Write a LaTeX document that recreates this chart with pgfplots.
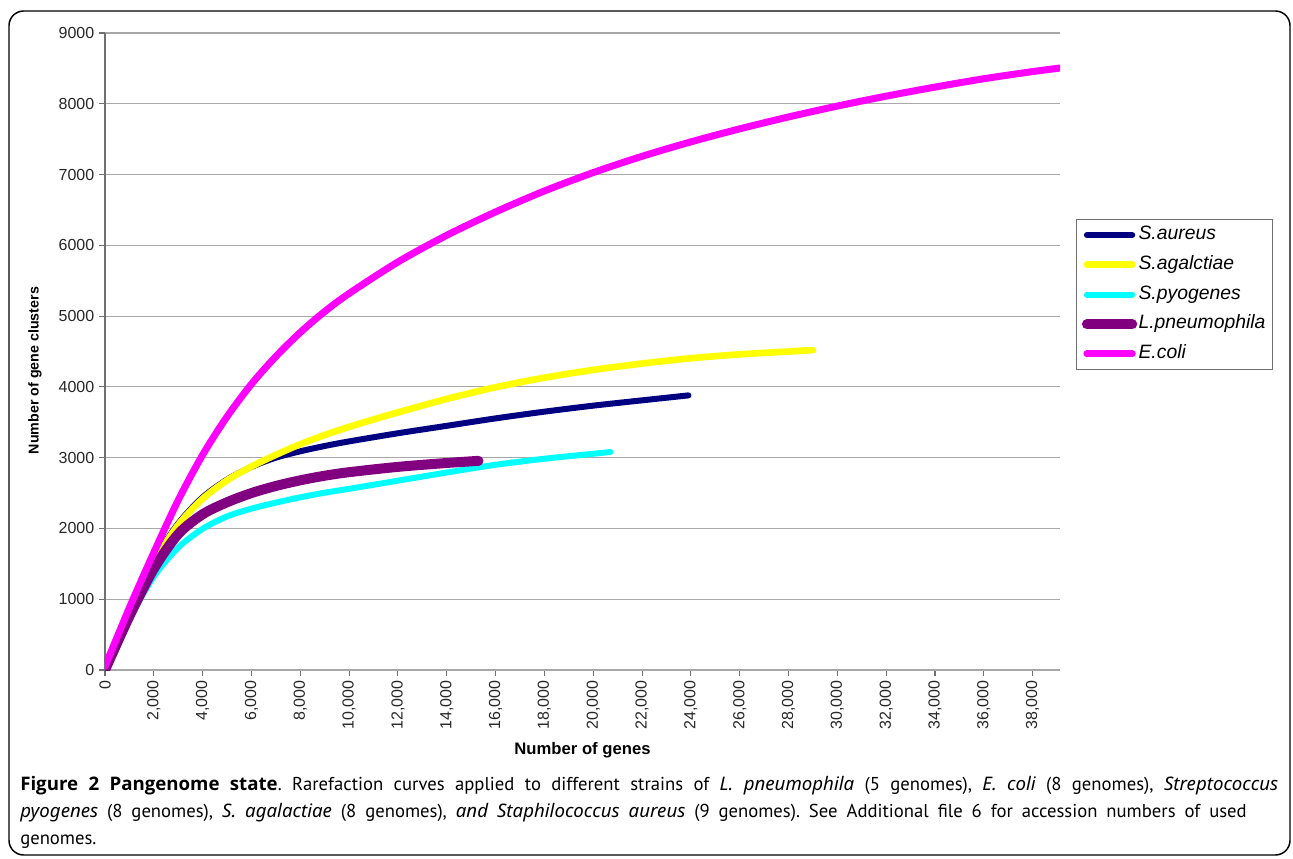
\documentclass[border=0pt]{standalone}
\usepackage{pgfplots}
\pgfplotsset{compat=1.18}
\usepackage{fontspec}
\setmainfont{Liberation Sans}
\newfontfamily\capfont{PT Sans}
\newfontfamily\notofont{Noto Sans}
\newfontfamily\osfont{Open Sans}
\newcommand{\ci}[1]{{\notofont\itshape #1}}
\definecolor{gridgray}{HTML}{A8A8A8}
\definecolor{axgray}{HTML}{707070}
\definecolor{caureus}{HTML}{000080}
\definecolor{cagal}{HTML}{FFFF00}
\definecolor{cpyo}{HTML}{00FFFF}
\definecolor{clpn}{HTML}{800080}
\definecolor{ecoli}{HTML}{FF00FF}
\begin{document}
\begin{tikzpicture}
\useasboundingbox (0pt,0pt) rectangle (969.75pt,-644.25pt);
\draw[line width=1.1pt, rounded corners=11pt] (6.75pt,-8.25pt) rectangle (967.5pt,-641.25pt);
\begin{axis}[
  at={(78.75pt,-502.5pt)}, anchor=south west,
  scale only axis, width=716.25pt, height=477.75pt,
  xmin=0, xmax=39120, ymin=0, ymax=9000,
  axis x line*=bottom, axis y line*=left,
  x axis line style={draw=gridgray, line width=0.9pt},
  y axis line style={draw=axgray, line width=0.9pt},
  xtick={0,2000,...,38000}, ytick={0,1000,...,9000},
  tick align=outside, major tick length=4.5pt,
  x tick style={draw=axgray, line width=0.8pt},
  y tick style={draw=axgray, line width=0.8pt},
  ymajorgrids, grid style={draw=gridgray, line width=0.9pt},
  scaled ticks=false,
  /pgf/number format/assume math mode=true,
  x tick label style={rotate=90, anchor=east, /pgf/number format/1000 sep={,}},
  y tick label style={/pgf/number format/1000 sep={}},
  ticklabel style={font=\fontsize{12}{14}\selectfont, text=black!85},
  xlabel={Number of genes}, ylabel={Number of gene clusters},
  xlabel style={font=\bfseries\fontsize{12.5}{14}\selectfont, at={(axis description cs:0.5,-0.1256)}, anchor=center},
  ylabel style={font=\bfseries\fontsize{10.7}{12}\selectfont, at={(axis description cs:-0.0733,0.47)}, anchor=center},
  legend style={at={(1.0168,0.5895)}, anchor=west, draw=axgray, line width=0.8pt,
    font=\itshape\fontsize{14.5}{16}\selectfont,
    nodes={text height=10pt, text depth=3pt, inner ysep=0pt, inner xsep=1pt},
    row sep=9.3pt, inner xsep=4pt, inner ysep=5pt},
  legend cell align=left,
  legend image code/.code={\draw[#1, line cap=round] (0pt,0pt) -- (34pt,0pt);},
  every axis plot/.append style={smooth, line cap=round, line join=round},
]
\addplot[caureus, line width=4.5pt] coordinates {
(0,0) (1000,790) (2000,1540) (3000,2070) (4000,2440) (5000,2690) (6000,2870)
(7000,3000) (8000,3090) (9000,3165) (10000,3230) (12000,3345) (14000,3450)
(16000,3555) (18000,3650) (20000,3735) (22000,3810) (23900,3880)};
\addlegendentry{S.aureus}
\addplot[cagal, line width=5pt] coordinates {
(0,0) (1000,780) (2000,1520) (3000,2050) (4000,2420) (5000,2680) (6000,2875)
(7000,3040) (8000,3190) (9000,3320) (10000,3435) (11000,3540) (12000,3640)
(14000,3830) (16000,3995) (18000,4130) (20000,4240) (22000,4330) (24000,4405)
(26000,4460) (28000,4500) (29000,4520)};
\addlegendentry{S.agalctiae}
\addplot[cpyo, line width=4.5pt] coordinates {
(0,0) (1000,720) (2000,1320) (3000,1730) (4000,1995) (5000,2170) (6000,2280)
(7000,2365) (8000,2440) (9000,2505) (10000,2560) (12000,2675) (14000,2790)
(16000,2900) (18000,2985) (20000,3055) (20700,3080)};
\addlegendentry{S.pyogenes}
\addplot[clpn, line width=7.5pt] coordinates {
(0,0) (1000,760) (2000,1430) (3000,1920) (4000,2200) (5000,2370) (6000,2500)
(7000,2600) (8000,2680) (9000,2745) (10000,2795) (12000,2870) (14000,2925) (15300,2955)};
\addlegendentry{L.pneumophila}
\addplot[ecoli, line width=5.25pt] coordinates {
(0,50) (1000,880) (2000,1660) (3000,2400) (4000,3040) (5000,3580) (6000,4040)
(7000,4430) (8000,4770) (9000,5065) (10000,5320) (12000,5765) (14000,6142)
(16000,6472) (18000,6768) (20000,7028) (22000,7258) (24000,7462) (26000,7646)
(28000,7814) (30000,7968) (32000,8108) (34000,8236) (36000,8354) (38000,8455)
(39120,8505)};
\addlegendentry{E.coli}
\end{axis}
\node[anchor=north west, text width=943.5pt, align=justify, inner sep=0pt,
  font=\capfont\fontsize{14}{20.3}\selectfont] at (15pt,-582pt) {\frenchspacing\spaceskip=6.7pt plus 3pt minus 1pt
{\osfont\bfseries Figure 2 Pangenome state}. Rarefaction curves applied to different strains of \ci{L. pneumophila} (5 genomes), \ci{E. coli} (8 genomes), \ci{Streptococcus}\linebreak
\ci{pyogenes} (8 genomes), \ci{S. agalactiae} (8 genomes), \ci{and Staphilococcus aureus} (9 genomes). See Additional file 6 for accession numbers of used\newline
genomes.};
\end{tikzpicture}
\end{document}
